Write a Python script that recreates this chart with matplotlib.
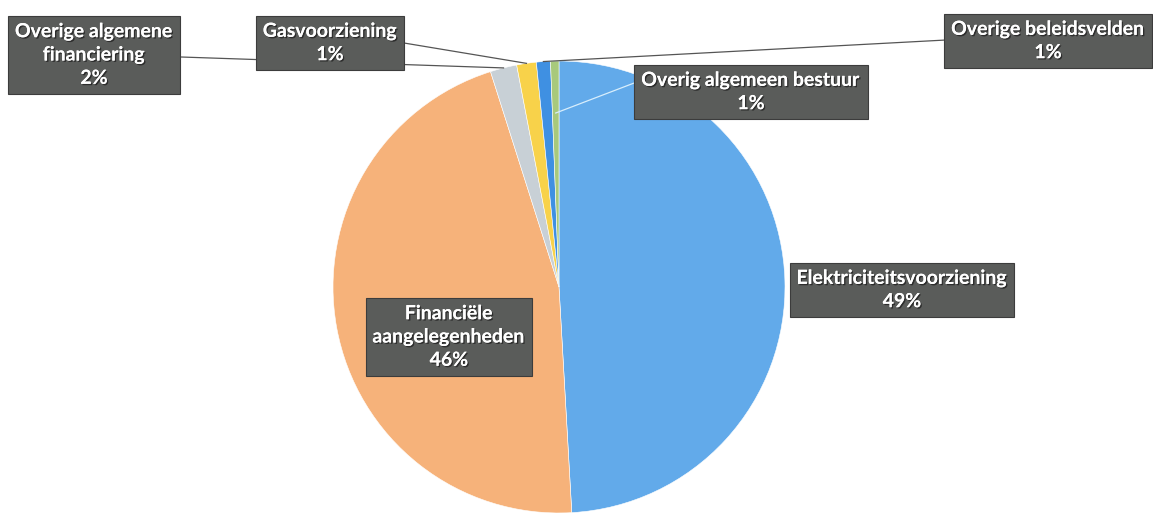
import numpy as np
import matplotlib.pyplot as plt
import matplotlib.patheffects as pe

W, H = 1153, 515

labels = ["Elektriciteitsvoorziening", "Financiële\naangelegenheden",
          "Overige algemene\nfinanciering", "Gasvoorziening",
          "Overige beleidsvelden", "Overig algemeen bestuur"]
values = [49.1, 46.0, 1.9, 1.4, 1.0, 0.6]
colors = ["#62aaea", "#f6b27a", "#c8d0d6", "#f8d24a", "#3f90e2", "#a8c97c"]

# label box centres (pixels from top-left)
box_pos = [(902, 290), (449, 337), (94, 55), (330, 43), (1048, 41), (751, 92)]

plt.rcParams['font.family'] = ['Lato', 'DejaVu Sans']

fig = plt.figure(figsize=(W / 100, H / 100), dpi=100)
ax = fig.add_axes([0, 0, 1, 1])

cx, cy, r = 559, H - 287, 226
wedges, _ = ax.pie(values, colors=colors, startangle=90, counterclock=False,
                   center=(cx, cy), radius=r,
                   wedgeprops=dict(linewidth=0.4, edgecolor="white"))
ax.set_xlim(0, W)
ax.set_ylim(0, H)
ax.set_aspect('equal')
ax.axis('off')


def edge_point(w, frac=1.0):
    t = np.deg2rad((w.theta1 + w.theta2) / 2)
    return cx + frac * r * np.cos(t), cy + frac * r * np.sin(t)


# leader lines
lines = {
    2: ((181, 57), 1.0, "#555555"),
    3: ((404, 43), 1.0, "#555555"),
    4: ((946, 40), 1.0, "#555555"),
    5: ((642, 80), 0.77, "#d8eefc"),
}
for i, (start, frac, col) in lines.items():
    ex, ey = edge_point(wedges[i], frac)
    ax.plot([start[0], ex], [H - start[1], ey], color=col, lw=0.9, zorder=3)

shadow = [pe.withSimplePatchShadow(offset=(1, -1), shadow_rgbFace="#222222", alpha=0.8),
          pe.Normal()]
for i, (lab, v) in enumerate(zip(labels, values)):
    bx, by = box_pos[i]
    ax.text(bx, H - by, f"{lab}\n{v:.0f}%", ha="center", va="center",
            fontsize=14, fontweight="bold", color="white", linespacing=1.45,
            zorder=5, path_effects=shadow,
            bbox=dict(boxstyle="square,pad=0.35", facecolor="#5a5c5a",
                      edgecolor="#3c3c3c", linewidth=0.8))

fig.savefig("out.png", dpi=100)
